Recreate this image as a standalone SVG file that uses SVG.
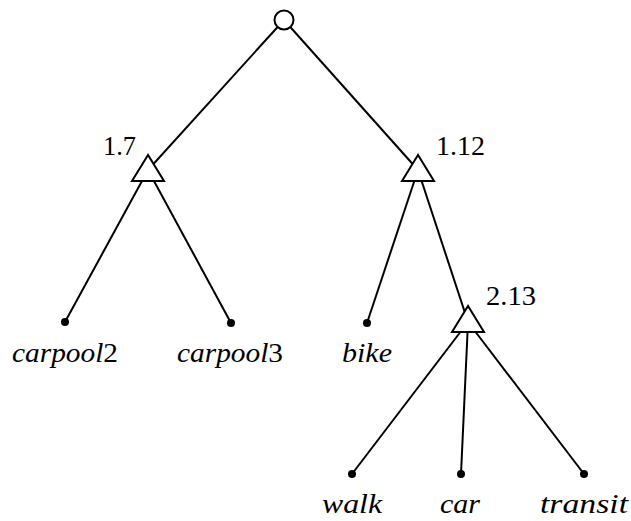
<svg xmlns="http://www.w3.org/2000/svg" width="631" height="521" viewBox="0 0 631 521">
  <style>
    .edge { stroke: #000; stroke-width: 2; fill: none; }
    .nest { fill: #fff; stroke: #000; stroke-width: 2; stroke-linejoin: miter; }
    .leaf { fill: #000; }
    text { font-family: 'Liberation Serif', serif; fill: #000; }
    .lbl { font-size: 28px; font-style: italic; text-anchor: middle; }
    .num { font-size: 27px; }
    .up { font-style: normal; }
  </style>
  <rect width="631" height="521" fill="#fff"/>

  <!-- tree edges, drawn under the nodes -->
  <g id="edges">
    <line class="edge" x1="284" y1="20" x2="148" y2="170"/>
    <line class="edge" x1="284" y1="20" x2="418" y2="170"/>
    <line class="edge" x1="148" y1="170" x2="65" y2="322"/>
    <line class="edge" x1="148" y1="170" x2="231" y2="323"/>
    <line class="edge" x1="418" y1="170" x2="367" y2="323"/>
    <line class="edge" x1="418" y1="170" x2="468" y2="322"/>
    <line class="edge" x1="468" y1="322" x2="352" y2="474"/>
    <line class="edge" x1="468" y1="322" x2="461" y2="474"/>
    <line class="edge" x1="468" y1="322" x2="584" y2="474"/>
  </g>

  <g id="root">
    <circle class="nest" cx="284" cy="20" r="9.5"/>
  </g>

  <g id="nest-left">
    <polygon class="nest" points="148,155 132,181 164,181"/>
    <text class="num" x="103" y="155" textLength="33" lengthAdjust="spacingAndGlyphs">1.7</text>
  </g>

  <g id="nest-right">
    <polygon class="nest" points="418,155 402,181 434,181"/>
    <text class="num" x="436" y="155" textLength="49" lengthAdjust="spacingAndGlyphs">1.12</text>
  </g>

  <g id="nest-sub">
    <polygon class="nest" points="468,306 452,332 484,332"/>
    <text class="num" x="486" y="305" textLength="50" lengthAdjust="spacingAndGlyphs">2.13</text>
  </g>

  <g id="leaf-carpool2">
    <circle class="leaf" cx="65" cy="322" r="4"/>
    <text class="lbl" x="65" y="362" textLength="106" lengthAdjust="spacingAndGlyphs">carpool<tspan class="up">2</tspan></text>
  </g>

  <g id="leaf-carpool3">
    <circle class="leaf" cx="231" cy="323" r="4"/>
    <text class="lbl" x="230" y="362" textLength="106" lengthAdjust="spacingAndGlyphs">carpool<tspan class="up">3</tspan></text>
  </g>

  <g id="leaf-bike">
    <circle class="leaf" cx="367" cy="323" r="4"/>
    <text class="lbl" x="367" y="362" textLength="50" lengthAdjust="spacingAndGlyphs">bike</text>
  </g>

  <g id="leaf-walk">
    <circle class="leaf" cx="352" cy="474" r="4"/>
    <text class="lbl" x="352" y="513" textLength="60" lengthAdjust="spacingAndGlyphs">walk</text>
  </g>

  <g id="leaf-car">
    <circle class="leaf" cx="461" cy="474" r="4"/>
    <text class="lbl" x="460" y="513" textLength="40" lengthAdjust="spacingAndGlyphs">car</text>
  </g>

  <g id="leaf-transit">
    <circle class="leaf" cx="584" cy="474" r="4"/>
    <text class="lbl" x="584" y="513" textLength="88" lengthAdjust="spacingAndGlyphs">transit</text>
  </g>
</svg>
